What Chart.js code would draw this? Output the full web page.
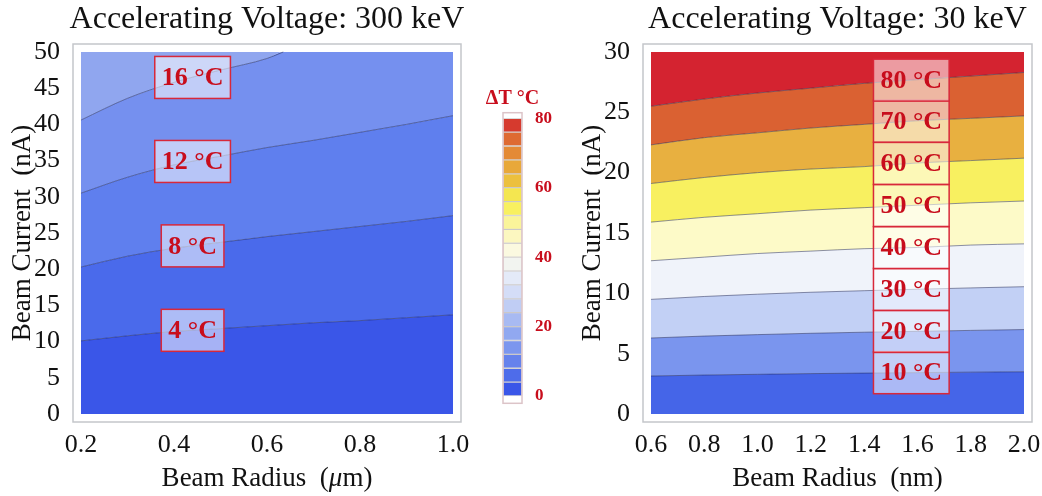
<!DOCTYPE html>
<html>
<head>
<meta charset="utf-8">
<script src="https://cdn.jsdelivr.net/npm/chart.js@4.4.1/dist/chart.umd.min.js"></script>
<style>
  body { margin: 0; background: #fff; }
  #wrap { position: relative; width: 1042px; height: 496px; }
  canvas { position: absolute; top: 0; }
</style>
</head>
<body>
<div id="wrap">
  <canvas id="left" width="470" height="496" style="left:0"></canvas>
  <canvas id="bar" width="100" height="496" style="left:470px"></canvas>
  <canvas id="right" width="472" height="496" style="left:570px"></canvas>
</div>
<script>
// ---- 300 keV panel: contour lines, beam current (nA) vs beam radius (um)
const leftRadius = [0.2, 0.3, 0.4, 0.5, 0.6, 0.7, 0.8, 0.9, 1.0];
const leftC4 = [10.1, 10.8, 11.4, 11.8, 12.2, 12.6, 12.9, 13.3, 13.7];
const leftC8 = [20.3, 21.8, 22.9, 23.7, 24.5, 25.2, 25.9, 26.6, 27.4];
const leftC12 = [30.5, 32.7, 34.4, 35.6, 36.8, 37.8, 38.9, 40.0, 41.2];
const leftC16Radius = [0.2, 0.3, 0.4, 0.5, 0.6, 0.635, 0.7, 0.8, 0.9, 1.0];
const leftC16 = [40.6, 43.6, 45.8, 47.5, 49.1, 50, 50, 50, 50, 50];
const leftLevels = ["4 °C", "8 °C", "12 °C", "16 °C"];
const leftBands = ["#3a56e8", "#4a6aeb", "#5f7fee", "#7590ef", "#90a6ef"];
const leftXTicks = [0.2, 0.4, 0.6, 0.8, 1.0];
const leftYTicks = [0, 5, 10, 15, 20, 25, 30, 35, 40, 45, 50];

// ---- 30 keV panel: beam current (nA) vs beam radius (nm)
const rightRadius = [0.6, 0.8, 1.0, 1.2, 1.4, 1.6, 1.8, 2.0];
const rightC10 = [3.15, 3.23, 3.29, 3.35, 3.39, 3.43, 3.47, 3.5];
const rightC20 = [6.3, 6.46, 6.58, 6.69, 6.78, 6.85, 6.93, 7.0];
const rightC30 = [9.5, 9.74, 9.93, 10.09, 10.22, 10.34, 10.45, 10.55];
const rightC40 = [12.7, 13.0, 13.3, 13.5, 13.7, 13.8, 14.0, 14.1];
const rightC50 = [15.9, 16.3, 16.6, 16.9, 17.1, 17.3, 17.5, 17.65];
const rightC60 = [19.1, 19.6, 20.0, 20.3, 20.5, 20.8, 21.0, 21.2];
const rightC70 = [22.3, 22.9, 23.3, 23.7, 24.0, 24.3, 24.5, 24.7];
const rightC80 = [25.5, 26.1, 26.6, 27.0, 27.4, 27.7, 28.0, 28.3];
const rightLevels = ["10 °C", "20 °C", "30 °C", "40 °C", "50 °C", "60 °C", "70 °C", "80 °C"];
const rightBands = ["#4565e8", "#7a95ee", "#c2d0f5", "#f0f3fa", "#fdfac8",
                    "#f8f060", "#e8b040", "#da6132", "#d42330"];
const rightXTicks = [0.6, 0.8, 1.0, 1.2, 1.4, 1.6, 1.8, 2.0];
const rightYTicks = [0, 5, 10, 15, 20, 25, 30];

// ---- colour bar (ΔT °C), 4 degree steps from 0 to 80
const barEdges = [0, 4, 8, 12, 16, 20, 24, 28, 32, 36, 40, 44, 48, 52, 56, 60, 64, 68, 72, 76, 80];
const barColors = ["#3a56e8", "#4e6cea", "#6682ec", "#7c96ee", "#91a8f0", "#a8baf2", "#c0cdf4",
                   "#d4ddf7", "#e4eaf8", "#f2f4f0", "#fbf9e0", "#fcf7c0", "#faf49a", "#f8f060",
                   "#f4e650", "#ecc03e", "#e8a83a", "#e48a36", "#de6a32", "#d63a2e"];
const barTicks = [0, 20, 40, 60, 80];

const SERIF = '"Liberation Serif", "DejaVu Serif", serif';
const RED = "#c80d1c";
const lineColor = "rgba(30,35,80,0.5)";

function pts(xs, ys) {
  return xs.map((x, i) => ({ x: x, y: ys[i] }));
}

function interp(data, x) {
  for (let i = 1; i < data.length; i++) {
    if (x <= data[i].x) {
      const a = data[i - 1], b = data[i];
      return a.y + (b.y - a.y) * (x - a.x) / (b.x - a.x);
    }
  }
  return data[data.length - 1].y;
}

// frame, titles, contour labels and colour-bar heading
const decor = {
  id: "decor",
  afterDatasetsDraw(chart, args, opts) {
    const { ctx, chartArea: a } = chart;
    const cx = (a.left + a.right) / 2;
    ctx.save();
    ctx.strokeStyle = opts.frameColor || "#c4c6ca";
    ctx.lineWidth = 1.5;
    ctx.strokeRect(a.left, a.top, a.width, a.height);

    if (opts.title) {
      ctx.font = "32px " + SERIF;
      ctx.fillStyle = "#111";
      ctx.textAlign = "center";
      ctx.textBaseline = "alphabetic";
      ctx.fillText(opts.title, cx, 28);
    }
    if (opts.xTitle) {
      // x axis title, with italic parts where the source uses them
      const parts = opts.xTitle;
      const fonts = parts.map(p => (p.italic ? "italic " : "") + "27px " + SERIF);
      let total = 0;
      const widths = parts.map((p, i) => { ctx.font = fonts[i]; const w = ctx.measureText(p.text).width; total += w; return w; });
      let x = cx - total / 2;
      ctx.fillStyle = "#111";
      ctx.textAlign = "left";
      ctx.textBaseline = "alphabetic";
      parts.forEach((p, i) => { ctx.font = fonts[i]; ctx.fillText(p.text, x, 486); x += widths[i]; });
    }
    if (opts.labels) {
      const sx = chart.scales.x, sy = chart.scales.y;
      ctx.font = "bold 26px " + SERIF;
      ctx.textAlign = "center";
      ctx.textBaseline = "middle";
      opts.labels.forEach((txt, i) => {
        const data = chart.data.datasets[i + 1].data;
        const px = sx.getPixelForValue(opts.labelX);
        const py = sy.getPixelForValue(interp(data, opts.labelX));
        const w = ctx.measureText(txt).width + 14, h = 42;
        ctx.fillStyle = "rgba(255,255,255,0.55)";
        ctx.fillRect(px - w / 2, py - h / 2, w, h);
        ctx.strokeStyle = "#d8283a";
        ctx.lineWidth = 1.5;
        ctx.strokeRect(px - w / 2, py - h / 2, w, h);
        ctx.fillStyle = RED;
        ctx.fillText(txt, px, py + 1);
      });
    }
    if (opts.heading) {
      ctx.font = "bold 20px " + SERIF;
      ctx.fillStyle = RED;
      ctx.textAlign = "center";
      ctx.textBaseline = "middle";
      ctx.fillText(opts.heading, cx, a.top - 14);
    }
    ctx.restore();
  }
};

function contourChart(id, o) {
  const datasets = [];
  const x0 = o.lines[0].xs[0], x1 = o.lines[0].xs[o.lines[0].xs.length - 1];
  datasets.push({ data: [{ x: x0, y: o.ymin }, { x: x1, y: o.ymin }], borderWidth: 0, fill: false });
  // filled bands between successive contours
  o.lines.forEach((ln, i) => {
    datasets.push({
      data: pts(ln.xs, ln.ys),
      borderWidth: 0,
      backgroundColor: o.bands[i],
      fill: "-1"
    });
  });
  datasets.push({
    data: [{ x: x0, y: o.ymax }, { x: x1, y: o.ymax }],
    borderWidth: 0,
    backgroundColor: o.bands[o.bands.length - 1],
    fill: "-1"
  });
  // contour strokes (drawn on top), stopping where a contour leaves through the top edge
  o.lines.forEach(ln => {
    const d = [];
    for (const p of pts(ln.xs, ln.ys)) {
      d.push(p);
      if (p.y >= o.ymax) break;
    }
    datasets.push({ data: d, borderColor: lineColor, borderWidth: 1, fill: false, order: -1 });
  });

  const tickFont = { family: SERIF, size: 26 };
  return new Chart(document.getElementById(id), {
    type: "line",
    data: { datasets: datasets },
    plugins: [decor],
    options: {
      responsive: false,
      animation: false,
      cubicInterpolationMode: "monotone",
      elements: { point: { radius: 0 } },
      layout: { padding: { left: 0, top: 44, right: o.padRight, bottom: 0 } },
      plugins: {
        legend: { display: false },
        tooltip: { enabled: false },
        decor: { labels: o.labels, labelX: o.labelX, title: o.title, xTitle: o.xTitle }
      },
      scales: {
        x: {
          type: "linear",
          min: o.xmin, max: o.xmax,
          afterBuildTicks: s => { s.ticks = o.xTicks.map(v => ({ value: v })); },
          afterFit: s => { s.height = 74; },
          grid: { display: false },
          border: { display: false },
          ticks: { color: "#111", font: tickFont, padding: 0, maxRotation: 0,
                   callback: v => v.toFixed(1) }
        },
        y: {
          min: o.yLo, max: o.yHi,
          afterBuildTicks: s => { s.ticks = o.yTicks.map(v => ({ value: v })); },
          afterFit: s => { s.width = 73; },
          grid: { display: false },
          border: { display: false },
          ticks: { color: "#111", font: tickFont, padding: 5 },
          title: { display: true, text: "Beam Current  (nA)", color: "#111",
                   font: { family: SERIF, size: 27 }, padding: { top: 7, bottom: 0 } }
        }
      }
    }
  });
}

contourChart("left", {
  title: "Accelerating Voltage: 300 keV",
  xTitle: [{ text: "Beam Radius  (" }, { text: "μ", italic: true }, { text: "m)" }],
  lines: [
    { xs: leftRadius, ys: leftC4 },
    { xs: leftRadius, ys: leftC8 },
    { xs: leftRadius, ys: leftC12 },
    { xs: leftC16Radius, ys: leftC16 }
  ],
  bands: leftBands,
  labels: leftLevels,
  labelX: 0.44,
  ymin: 0, ymax: 50,
  xmin: 0.1828, xmax: 1.0172,
  yLo: -1.1, yHi: 51.1,
  xTicks: leftXTicks, yTicks: leftYTicks,
  padRight: 9
});

contourChart("right", {
  title: "Accelerating Voltage: 30 keV",
  xTitle: [{ text: "Beam Radius  (nm)" }],
  lines: [
    { xs: rightRadius, ys: rightC10 },
    { xs: rightRadius, ys: rightC20 },
    { xs: rightRadius, ys: rightC30 },
    { xs: rightRadius, ys: rightC40 },
    { xs: rightRadius, ys: rightC50 },
    { xs: rightRadius, ys: rightC60 },
    { xs: rightRadius, ys: rightC70 },
    { xs: rightRadius, ys: rightC80 }
  ],
  bands: rightBands,
  labels: rightLevels,
  labelX: 1.577,
  ymin: 0, ymax: 30,
  xmin: 0.57, xmax: 2.03,
  yLo: -0.66, yHi: 30.66,
  xTicks: rightXTicks, yTicks: rightYTicks,
  padRight: 10
});

// colour bar as floating bars
new Chart(document.getElementById("bar"), {
  type: "bar",
  data: {
    labels: [""],
    datasets: barColors.map((c, i) => ({
      data: [[barEdges[i], barEdges[i + 1]]],
      backgroundColor: c,
      borderColor: "rgba(90,80,80,0.22)",
      borderWidth: 1,
      borderSkipped: false,
      grouped: false,
      barPercentage: 1,
      categoryPercentage: 1
    }))
  },
  plugins: [decor],
  options: {
    responsive: false,
    animation: false,
    layout: { padding: { left: 33, top: 112.7, right: 0, bottom: 92.7 } },
    plugins: {
      legend: { display: false },
      tooltip: { enabled: false },
      decor: { frameColor: "#dcc4c8", heading: "ΔT °C" }
    },
    scales: {
      x: { display: false },
      y: {
        position: "right",
        min: -2.1, max: 81.6,
        afterBuildTicks: s => { s.ticks = barTicks.map(v => ({ value: v })); },
        afterFit: s => { s.width = 48; },
        grid: { display: false },
        border: { display: false },
        ticks: { color: RED, font: { family: SERIF, size: 17, weight: "bold" }, padding: 5 }
      }
    }
  }
});
</script>
</body>
</html>
